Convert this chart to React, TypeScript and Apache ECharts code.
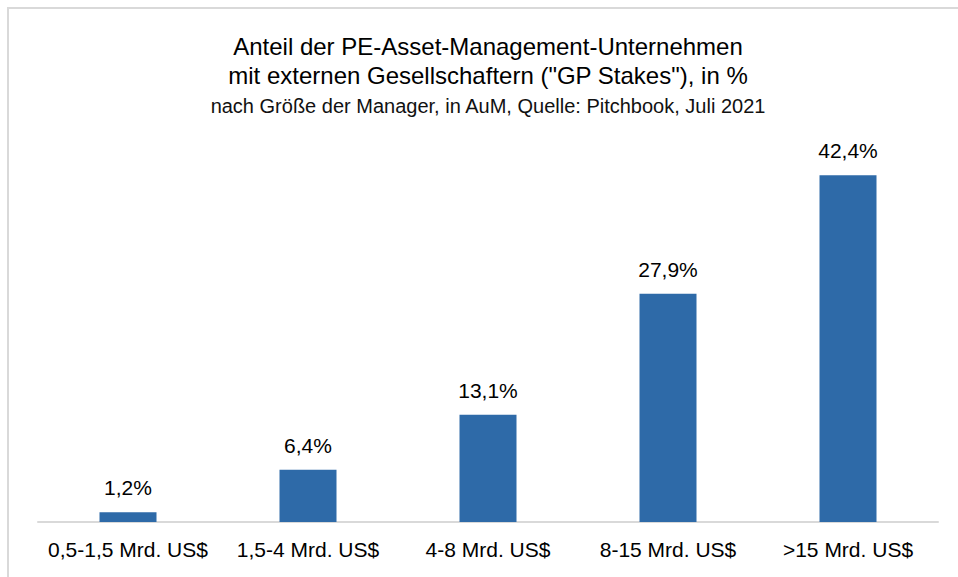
import React, { useEffect, useRef } from "react";
import * as echarts from "echarts";

const categories = [
  "0,5-1,5 Mrd. US$",
  "1,5-4 Mrd. US$",
  "4-8 Mrd. US$",
  "8-15 Mrd. US$",
  ">15 Mrd. US$",
];
const values = [1.2, 6.4, 13.1, 27.9, 42.4];
const titleLines = [
  "Anteil der PE-Asset-Management-Unternehmen",
  'mit externen Gesellschaftern ("GP Stakes"), in %',
];
const subtitle = "nach Größe der Manager, in AuM, Quelle: Pitchbook, Juli 2021";

const FONT = "'Liberation Sans', Arial, sans-serif";

export default function App() {
  const ref = useRef<HTMLDivElement>(null);
  useEffect(() => {
    if (!ref.current) return;
    const chart = echarts.init(ref.current, null, { renderer: "svg" });
    chart.setOption({
      animation: false,
      backgroundColor: "#ffffff",
      textStyle: { fontFamily: FONT },
      graphic: [
        {
          type: "rect",
          shape: { x: 8, y: 8, width: 1000, height: 700 },
          style: { fill: "none", stroke: "#d9d9d9", lineWidth: 2 },
          silent: true,
        },
        {
          type: "text",
          x: 488,
          y: 46,
          style: {
            text: titleLines[0],
            fontFamily: FONT,
            fontSize: 24,
            fill: "#000000",
            textAlign: "center",
            textVerticalAlign: "middle",
          },
        },
        {
          type: "text",
          x: 488,
          y: 75,
          style: {
            text: titleLines[1],
            fontFamily: FONT,
            fontSize: 24,
            fill: "#000000",
            textAlign: "center",
            textVerticalAlign: "middle",
          },
        },
        {
          type: "text",
          x: 488,
          y: 106,
          style: {
            text: subtitle,
            fontFamily: FONT,
            fontSize: 20,
            fill: "#111111",
            textAlign: "center",
            textVerticalAlign: "middle",
          },
        },
      ],
      grid: { left: 38, right: 20, top: 154, bottom: 55, containLabel: false },
      xAxis: {
        type: "category",
        data: categories,
        axisLine: { show: true, lineStyle: { color: "#d9d9d9", width: 2 } },
        axisTick: { show: false },
        axisLabel: {
          color: "#000000",
          fontFamily: FONT,
          fontSize: 21,
          margin: 17,
          interval: 0,
        },
      },
      yAxis: {
        type: "value",
        min: 0,
        max: 45,
        show: false,
        splitLine: { show: false },
      },
      series: [
        {
          type: "bar",
          data: values,
          barWidth: 57,
          itemStyle: { color: "#2E6AA8" },
          label: {
            show: true,
            position: "top",
            distance: 14,
            color: "#000000",
            fontFamily: FONT,
            fontSize: 21,
            formatter: (p: any) => p.value.toFixed(1).replace(".", ",") + "%",
          },
        },
      ],
    });
    return () => chart.dispose();
  }, []);
  return (
    <div
      ref={ref}
      style={{ position: "fixed", left: 0, top: 0, width: 958, height: 577 }}
    />
  );
}
